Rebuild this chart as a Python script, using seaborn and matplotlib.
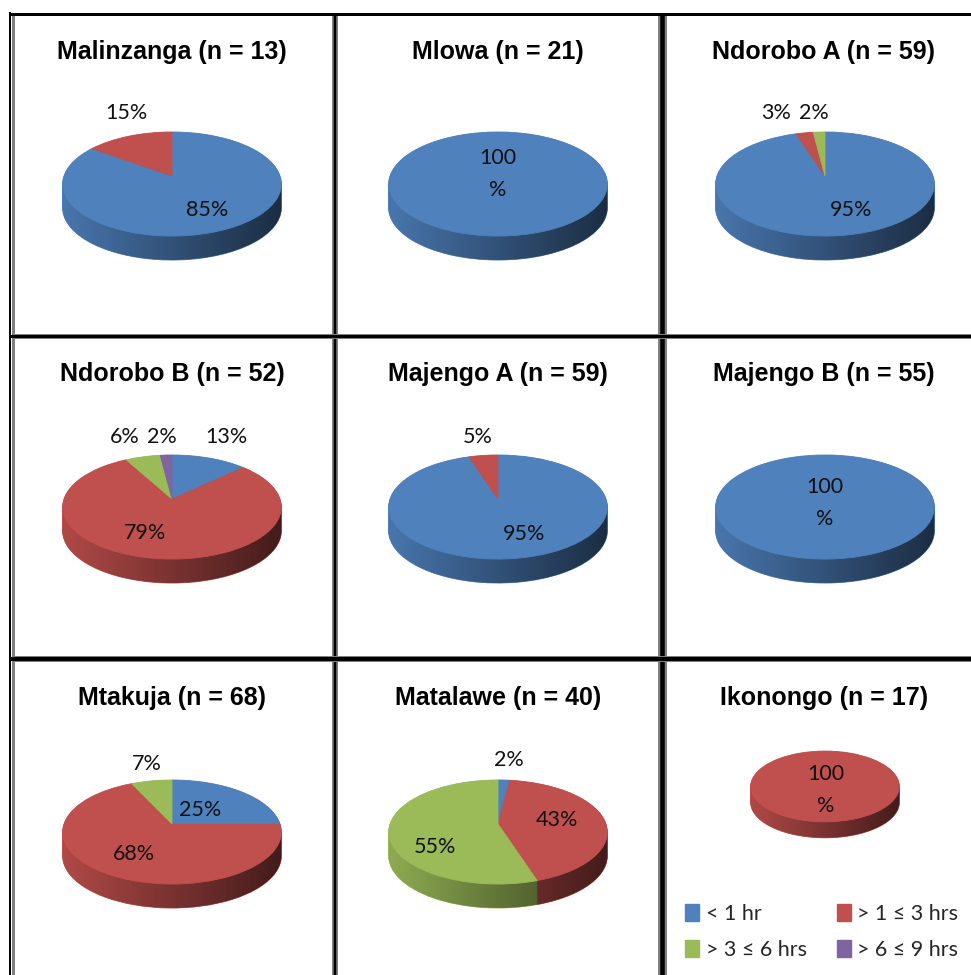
import numpy as np
import matplotlib
matplotlib.use('Agg')
import matplotlib.pyplot as plt
import seaborn as sns
from matplotlib.patches import Patch
from matplotlib.path import Path
from matplotlib.transforms import Affine2D, Transform

sns.set_theme(style='white')
plt.rcParams['font.family'] = ['Lato', 'DejaVu Sans']

# data
sites = ['Malinzanga', 'Mlowa', 'Ndorobo A', 'Ndorobo B', 'Majengo A', 'Majengo B',
         'Mtakuja', 'Matalawe', 'Ikonongo']
counts = [13, 21, 59, 52, 59, 55, 68, 40, 17]
categories = ['< 1 hr', '> 1 ≤ 3 hrs', '> 3 ≤ 6 hrs', '> 6 ≤ 9 hrs']
under_1 = [85, 100, 95, 13, 95, 100, 25, 2, 0]
from_1_to_3 = [15, 0, 3, 79, 5, 0, 68, 43, 100]
from_3_to_6 = [0, 0, 2, 6, 0, 0, 7, 55, 0]
from_6_to_9 = [0, 0, 0, 2, 0, 0, 0, 0, 0]

palette = sns.color_palette(['#4F81BD', '#C0504D', '#9BBB59', '#8064A2'])

# layout in pixels
K = 0.154
centres = [(172, 176), (498, 176), (825, 176),
           (172, 499), (498, 499), (825, 499),
           (172, 824), (498, 824), (825, 781)]
scales = [1, 1, 1, 1, 1, 1, 1, 1, 0.68]
title_x = [172, 498, 824, 172, 498, 824, 172, 498, 824]
title_y = [52, 52, 52, 374, 374, 374, 698, 698, 698]
# where each percent label sits, in slice order
label_xy = [
    [(207, 210), (126, 113)],
    [(498, 174)],
    [(851, 210), (776, 113), (814, 113)],
    [(226, 437), (145, 533), (125, 437), (162, 437)],
    [(524, 534), (478, 437)],
    [(825, 503)],
    [(200, 810), (134, 854), (147, 764)],
    [(509, 760), (557, 820), (435, 847)],
    [(826, 790)],
]


class Tilt(Transform):
    # perspective for the pie lid, far edge looks shorter than near edge
    input_dims = 2
    output_dims = 2

    def transform_non_affine(self, values):
        values = np.asarray(values, dtype=float)
        w = 1 + K * values[:, 1]
        return values / w[:, None]


def place(cx, cy, scale, drop=0):
    return Affine2D().scale(108 * scale, -50.8 * scale).translate(cx, cy + drop)


fig = plt.figure(figsize=(9.71, 9.75), dpi=100)
ax = fig.add_axes([0, 0, 1, 1])

for i, site in enumerate(sites):
    vals = [under_1[i], from_1_to_3[i], from_3_to_6[i], from_6_to_9[i]]
    cols = [c for c, v in zip(palette, vals) if v > 0]
    vals = [v for v in vals if v > 0]
    cx, cy = centres[i]
    s = scales[i]
    depth = int(round(24 * s))

    # side wall: the same pie stacked downwards
    for d in range(depth, 0, -1):
        wedges, _ = ax.pie(vals, colors=cols, startangle=90, counterclock=False,
                           wedgeprops={'linewidth': 0.6, 'zorder': 2})
        for w in wedges:
            w.set_edgecolor(w.get_facecolor())
            w.set_transform(Tilt() + place(cx, cy, s, d) + ax.transData)

    # dark shading over the wall, left to right
    th = np.arcsin(-K)
    a1 = np.linspace(np.pi - th, 2 * np.pi + th, 60)
    a2 = np.linspace(th, np.pi - th, 60)
    low = Tilt().transform_non_affine(np.c_[np.cos(a1), np.sin(a1)])
    upp = Tilt().transform_non_affine(np.c_[np.cos(a2), np.sin(a2)])
    outline = np.r_[place(cx, cy, s, depth).transform(low), place(cx, cy, s, 0).transform(upp)]
    ramp = np.zeros((1, 128, 4))
    ramp[..., 3] = np.linspace(0.08, 0.66, 128)
    im = ax.imshow(ramp, extent=(cx - 112 * s, cx + 112 * s, cy + 90, cy - 60),
                   aspect='auto', zorder=3, interpolation='bilinear')
    im.set_clip_path(Path(outline), ax.transData)

    # lid
    wedges, _ = ax.pie(vals, colors=cols, startangle=90, counterclock=False,
                       wedgeprops={'linewidth': 0.6, 'zorder': 4})
    for w in wedges:
        w.set_edgecolor(w.get_facecolor())
        w.set_transform(Tilt() + place(cx, cy, s) + ax.transData)

    for v, (x, y) in zip(vals, label_xy[i]):
        txt = '100\n%' if v == 100 else f'{v}%'
        ax.text(x, y, txt, ha='center', va='center', fontsize=15.5, color='#111111',
                linespacing=1.75, zorder=6)

    ax.text(title_x[i], title_y[i], f'{site} (n = {counts[i]})', ha='center', va='center',
            fontsize=18, fontweight='bold', family=['Liberation Sans'], color='black', zorder=6)

ax.set_aspect('auto')
ax.set_xlim(0, 971)
ax.set_ylim(975, 0)
ax.set_axis_off()

# panel frames: grey band with black core, widths in pixels
px = 0.72
ax.vlines(12.5, 14, 975, color='#808080', lw=3 * px, zorder=7)
ax.vlines(10, 12, 975, color='black', lw=2 * px, zorder=7)
ax.vlines(335, 14, 975, color='#808080', lw=6 * px, zorder=7)
ax.vlines(335, 14, 975, color='black', lw=2.5 * px, zorder=7)
ax.vlines(661.5, 14, 975, color='#808080', lw=9 * px, zorder=7)
ax.vlines(661.5, 14, 975, color='black', lw=4.5 * px, zorder=7)
ax.hlines(335.5, 12, 971, color='#808080', lw=5 * px, zorder=7)
ax.hlines(335.5, 10, 971, color='black', lw=3 * px, zorder=8)
ax.hlines(659, 12, 971, color='#808080', lw=6 * px, zorder=7)
ax.hlines(659, 10, 971, color='black', lw=4 * px, zorder=8)
ax.hlines(13.5, 9, 971, color='black', lw=3 * px, zorder=8)

handles = [Patch(color=c) for c in palette]
# matplotlib fills columns first, so reorder to read across
order = [0, 2, 1, 3]
ax.legend([handles[j] for j in order], [categories[j] for j in order], ncol=2,
          loc='upper left', bbox_to_anchor=(685, 904), bbox_transform=ax.transData,
          frameon=False, fontsize=15.5, handlelength=0.66, handleheight=0.8,
          handletextpad=0.3, labelspacing=0.74, columnspacing=1.4,
          borderpad=0, borderaxespad=0)

fig.savefig('out.png', dpi=100)
